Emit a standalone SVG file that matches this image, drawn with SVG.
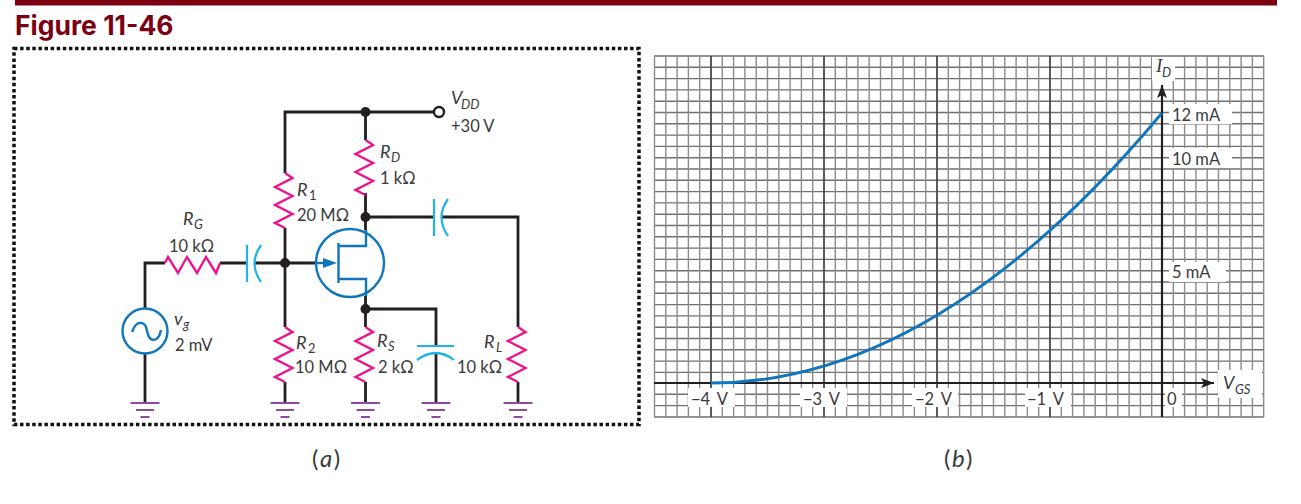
<svg xmlns="http://www.w3.org/2000/svg" width="1301" height="504" viewBox="0 0 1301 504">
<defs>
<polyline id="rv" points="0,0 7.500,5 -10,14 7.500,23 -10,32 7.500,41 -10,50 0,55" fill="none" stroke="#ec148c" stroke-width="2.4"/>
<g id="gnd" stroke="#8e4b9e" fill="none"><path d="M-14.5,0H14.5" stroke-width="2"/><path d="M-9,7H9" stroke-width="2"/><path d="M-4.5,14H4.5" stroke-width="2"/></g>
<marker id="bh" markerWidth="14" markerHeight="10" refX="13" refY="5" orient="auto" markerUnits="userSpaceOnUse"><path d="M0,0L13,5L0,10L3,5Z" fill="#231f20"/></marker>
</defs>
<style>
text{font-family:"Lato","Open Sans","Liberation Sans",sans-serif;font-size:16.500px;fill:#3a3a3c}
.i{font-style:italic;font-size:18px}
.s{font-size:13px;font-style:italic}
.w{fill:none;stroke:#231f20;stroke-width:2.8}
.b{fill:none;stroke:#0f75bc;stroke-width:2.4}
.c{fill:none;stroke:#1eb4e6;stroke-width:2.2}
.dot{fill:#231f20}
.gm{stroke:#8c8c8c;stroke-width:1.4}
.gh{stroke:#707070;stroke-width:1.4}
.gM{stroke:#4a4a4a;stroke-width:1.8}
.ax{word-spacing:3px}
.p{font-size:24px;letter-spacing:1.5px}
</style>
<rect width="1301" height="504" fill="#fff"/>
<rect x="15" y="0" width="1262" height="5.5" fill="#7a0012"/>
<text x="15" y="35" style="font-family:'Inter','Lato',sans-serif;font-size:26.500px;font-weight:700;fill:#7a0012">Figure 11-46</text>
<rect x="14" y="48.500" width="625" height="376" fill="none" stroke="#111" stroke-width="3.500" stroke-dasharray="3.500 2.600"/>

<g id="connectors">
<path class="w" d="M285,173V112H434M365.500,112V140M365.500,193V230M366,217H434M442,217H518V327M285,228V327M285,382V403M365.500,382V403M365.500,296V327M365.500,309H436V346M436,353V403M145,308V263H165M220,263H247M254,263H316M145,354V403M518,382V403"/>
</g>

<g id="R1"><use href="#rv" x="285" y="173"/><text class="i" x="297" y="196">R</text><text class="s" x="309" y="200" style="font-style:normal">1</text><text x="297" y="221">20 MΩ</text></g>
<g id="R2"><use href="#rv" x="285" y="327"/><text class="i" x="296" y="349">R</text><text class="s" x="308" y="353" style="font-style:normal">2</text><text x="295" y="373">10 MΩ</text></g>
<g id="RD"><use href="#rv" x="365.500" y="140"/><text class="i" x="380" y="158">R</text><text class="s" x="391" y="162">D</text><text x="380" y="184">1 kΩ</text></g>
<g id="RS"><use href="#rv" x="365.500" y="327"/><text class="i" x="377" y="347">R</text><text class="s" x="388" y="351">S</text><text x="378" y="373">2 kΩ</text></g>
<g id="RL"><use href="#rv" x="518" y="327"/><text class="i" x="484" y="348">R</text><text class="s" x="496" y="352">L</text><text x="457" y="373">10 kΩ</text></g>
<g id="RG"><polyline points="165,263 168,257 178,273 187,257 197,273 206,257 216,273 220,263" fill="none" stroke="#ec148c" stroke-width="2.4"/><text class="i" x="183" y="225">R</text><text class="s" x="194" y="229">G</text><text x="169" y="252">10 kΩ</text></g>
<g id="C1"><path class="c" d="M247,245V282M261,245Q248,263.500 261,282"/></g>
<g id="C2"><path class="c" d="M434,199V236M448,199Q435,217.500 448,236"/></g>
<g id="C3"><path class="c" d="M417,346H454M417,360Q436,346 454,360"/></g>
<g id="Q1">
<circle class="b" cx="350" cy="263" r="34"/>
<path class="b" d="M338.500,243V283" stroke-width="3"/>
<path class="b" d="M338,246H366V230M338,279H366V296"/>
<path class="b" d="M316,263H326"/>
<path d="M323,258L337,263L323,268Z" fill="#0f75bc"/>
</g>
<g id="Vg"><circle class="b" cx="145" cy="331" r="22.500"/><path class="b" d="M132,332C137,318 146,322 147,331C149,342 158,344 161,330"/><text class="i" x="174" y="325">v</text><text class="s" x="183" y="329">g</text><text x="175" y="351">2 mV</text></g>
<g id="VDD"><circle cx="439" cy="112" r="5" fill="#fff" stroke="#231f20" stroke-width="2.4"/><text class="i" x="451" y="104">V</text><text class="s" x="461" y="109">DD</text><text x="451" y="132">+30 V</text></g>
<circle class="dot" cx="365.500" cy="112" r="5"/><circle class="dot" cx="365.500" cy="217" r="5"/><circle class="dot" cx="365.500" cy="309" r="5"/><circle class="dot" cx="285" cy="263" r="5"/>
<g id="grounds"><use href="#gnd" x="145" y="403"/><use href="#gnd" x="285" y="403"/><use href="#gnd" x="365.500" y="403"/><use href="#gnd" x="436" y="403"/><use href="#gnd" x="518" y="403"/></g>
<text class="p" x="312" y="467">(<tspan style="font-style:italic">a</tspan>)</text>
<text class="p" x="944" y="467">(<tspan style="font-style:italic">b</tspan>)</text>

<g id="grid">
<path class="gh" d="M654,56H1264M654,67.300H1264M654,78.600H1264M654,89.900H1264M654,101.200H1264M654,112.500H1264M654,123.800H1264M654,135.100H1264M654,146.400H1264M654,157.700H1264M654,169H1264M654,180.300H1264M654,191.600H1264M654,202.900H1264M654,214.200H1264M654,225.500H1264M654,236.800H1264M654,248.100H1264M654,259.400H1264M654,270.700H1264M654,282H1264M654,293.300H1264M654,304.600H1264M654,315.900H1264M654,327.200H1264M654,338.500H1264M654,349.800H1264M654,361.100H1264M654,372.400H1264M654,394.300H1264M654,405.600H1264M654,417H1264"/>
<path class="gm" d="M654.500,56V417M665.800,56V417M677.100,56V417M688.400,56V417M699.700,56V417M722.300,56V417M733.600,56V417M744.900,56V417M756.200,56V417M767.500,56V417M778.800,56V417M790.100,56V417M801.400,56V417M812.700,56V417M835.300,56V417M846.600,56V417M857.900,56V417M869.200,56V417M880.500,56V417M891.800,56V417M903.100,56V417M914.400,56V417M925.700,56V417M948.300,56V417M959.600,56V417M970.900,56V417M982.200,56V417M993.500,56V417M1004.800,56V417M1016.100,56V417M1027.400,56V417M1038.700,56V417M1061.300,56V417M1072.600,56V417M1083.900,56V417M1095.200,56V417M1106.500,56V417M1117.800,56V417M1129.100,56V417M1140.400,56V417M1151.700,56V417M1173.300,56V417M1184.600,56V417M1195.900,56V417M1207.200,56V417M1218.500,56V417M1229.800,56V417M1241.100,56V417M1252.400,56V417M1263.700,56V417"/>
<path class="gM" d="M711,56V417M824,56V417M937,56V417M1050,56V417"/>
<g fill="#fff"><rect x="688" y="388" width="47" height="19"/><rect x="800" y="388" width="47" height="19"/><rect x="912" y="388" width="46" height="19"/><rect x="1025" y="388" width="46" height="19"/><rect x="1165" y="388" width="17" height="19"/><rect x="1218" y="370" width="44" height="28"/><rect x="1152" y="57" width="23" height="24"/><rect x="1169" y="104" width="63" height="20"/><rect x="1169" y="148" width="63" height="20"/><rect x="1169" y="262" width="57" height="20"/></g>
</g>
<g id="axes">
<path d="M654,383H1214" stroke="#231f20" stroke-width="2" marker-end="url(#bh)"/>
<path d="M1162,417V85" stroke="#231f20" stroke-width="2.200" marker-end="url(#bh)"/>
</g>
<path id="curve" d="M711,383Q936.500,383 1162,113" fill="none" stroke="#0f75bc" stroke-width="2.800"/>
<g id="axis-labels">
<text class="ax" x="691" y="405">−4 V</text><text class="ax" x="803" y="405">−3 V</text><text class="ax" x="915" y="405">−2 V</text><text class="ax" x="1027" y="405">−1 V</text><text x="1167" y="405">0</text>
<text x="1172" y="121">12 mA</text><text x="1172" y="165">10 mA</text><text x="1172" y="278">5 mA</text>
<text x="1156" y="72" style="font-family:'Liberation Serif',serif;font-style:italic;font-size:19px">I</text><text class="s" x="1162" y="77">D</text>
<text class="i" x="1223" y="389">V</text><text class="s" x="1235" y="394">GS</text>
</g>
</svg>
